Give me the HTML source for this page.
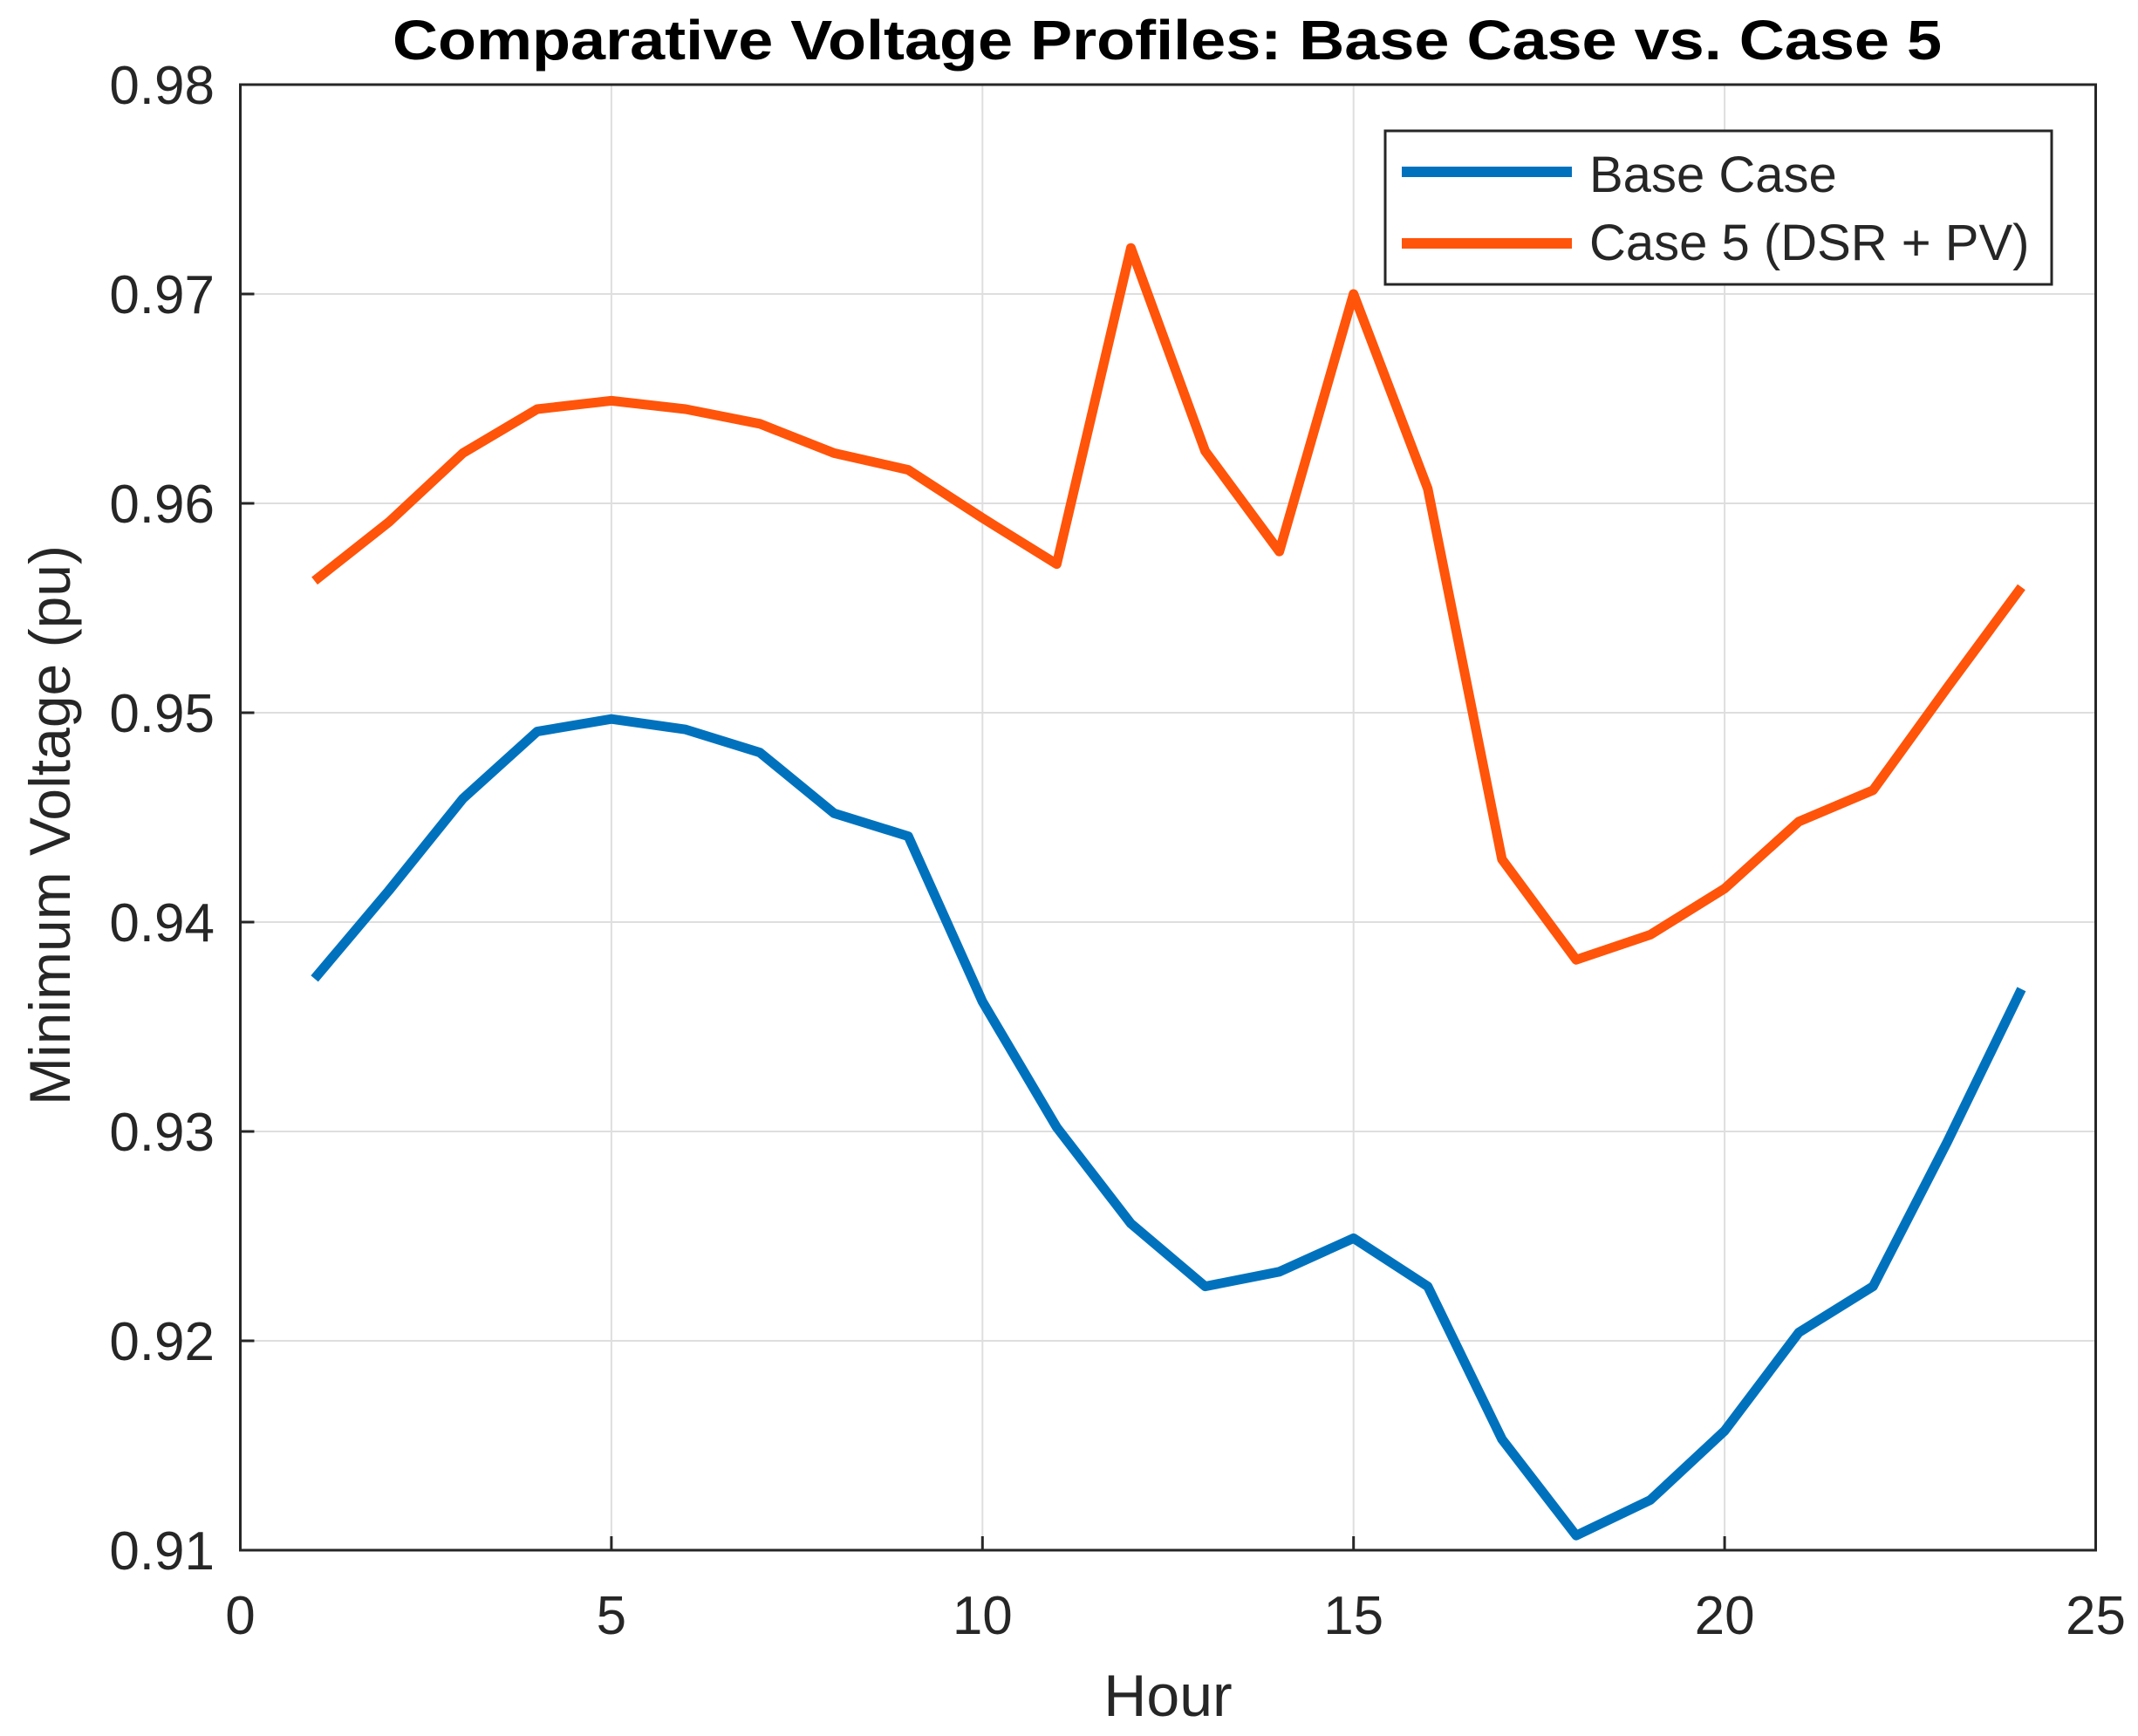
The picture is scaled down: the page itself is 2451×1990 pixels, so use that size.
<!DOCTYPE html>
<html><head><meta charset="utf-8"><style>
html,body{margin:0;padding:0;background:#fff}
svg{display:block}
text{font-family:"Liberation Sans",sans-serif;fill:#262626}
</style></head><body>
<svg id="chart" width="2451" height="1990" viewBox="0 0 2451 1990" xmlns="http://www.w3.org/2000/svg">
<rect width="2451" height="1990" fill="#fff"/>
<g id="grid"></g>
<g id="series"></g>
<rect x="275.5" y="97" width="2127" height="1680" fill="none" stroke="#262626" stroke-width="3"/>
<g id="ticks"></g>
<text x="1338" y="68" text-anchor="middle" font-size="64" font-weight="bold" fill="#000" style="fill:#000" textLength="1776" lengthAdjust="spacingAndGlyphs">Comparative Voltage Profiles: Base Case vs. Case 5</text>
<text x="1339" y="1967" text-anchor="middle" font-size="68">Hour</text>
<text x="0" y="0" transform="translate(80,946) rotate(-90)" text-anchor="middle" font-size="66">Minimum Voltage (pu)</text>
<g>
<rect x="1588" y="150" width="764" height="176" fill="#fff" stroke="#262626" stroke-width="3"/>
<line x1="1607" y1="197" x2="1802" y2="197" stroke="#0072BD" stroke-width="12"/>
<text x="1822" y="220" font-size="58">Base Case</text>
<line x1="1607" y1="279" x2="1802" y2="279" stroke="#FF540A" stroke-width="12"/>
<text x="1822" y="298" font-size="58">Case 5 (DSR + PV)</text>
</g>
</svg>
<script>
const hours = [1,2,3,4,5,6,7,8,9,10,11,12,13,14,15,16,17,18,19,20,21,22,23,24];
const baseCase = [0.9373,0.9415,0.9459,0.9491,0.9497,0.9492,0.9481,0.9452,0.9441,0.9362,0.9302,0.9256,0.9226,0.9233,0.9249,0.9226,0.9153,0.9107,0.9124,0.9157,0.9204,0.9226,0.9295,0.9368];
const case5 = [0.9563,0.9591,0.9624,0.9645,0.9649,0.9645,0.9638,0.9624,0.9616,0.9593,0.9571,0.9722,0.9625,0.9577,0.9700,0.9607,0.9430,0.9382,0.9394,0.9416,0.9448,0.9463,0.9512,0.9560];
const xTicks = [0,5,10,15,20,25];
const yTicks = [0.91,0.92,0.93,0.94,0.95,0.96,0.97,0.98];
const yTickLabels = ["0.91","0.92","0.93","0.94","0.95","0.96","0.97","0.98"];

const L=275.5,R=2402.5,T=97,B=1777;
const xS=v=>L+(v-0)/(25-0)*(R-L);
const yS=v=>B-(v-0.91)/(0.98-0.91)*(B-T);
const NS='http://www.w3.org/2000/svg';
const grid=document.getElementById('grid'),ticks=document.getElementById('ticks'),series=document.getElementById('series');
function mk(tag,attrs,parent){const e=document.createElementNS(NS,tag);for(const k in attrs)e.setAttribute(k,attrs[k]);parent.appendChild(e);return e;}
xTicks.forEach(v=>{
  const x=xS(v);
  const g=mk('line',{x1:x,x2:x,y1:T,y2:B,stroke:'#dedede','stroke-width':2},grid);
  
  
  const t=mk('line',{x1:x,x2:x,y1:B,y2:B-16,stroke:'#262626','stroke-width':3},ticks);
  
  
  const l=mk('text',{x:x,y:1873,'text-anchor':'middle','font-size':62},ticks);
  l.textContent=String(v);
  
  
});
yTicks.forEach((v,i)=>{
  const y=yS(v);
  const g=mk('line',{x1:L,x2:R,y1:y,y2:y,stroke:'#dedede','stroke-width':2},grid);
  
  
  const t=mk('line',{x1:L,x2:L+16,y1:y,y2:y,stroke:'#262626','stroke-width':3},ticks);
  
  
  const l=mk('text',{x:246,y:y+22,'text-anchor':'end','font-size':62},ticks);
  l.textContent=yTickLabels[i];
  
  
});
function draw(vals,color,name){
  const pts=hours.map((h,i)=>xS(h)+','+yS(vals[i])).join(' ');
  const p=mk('polyline',{points:pts,fill:'none',stroke:color,'stroke-width':11,'stroke-linejoin':'round'},series);
  
  
}
draw(baseCase,'#0072BD','base-case-line');
draw(case5,'#FF540A','case5-line');
</script>
</body></html>
